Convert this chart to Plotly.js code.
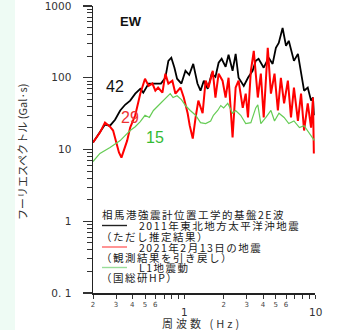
<!DOCTYPE html>
<html>
<head>
<meta charset="utf-8">
<script src="https://cdn.plot.ly/plotly-3.0.1.min.js"></script>
<style>html,body{margin:0;padding:0;background:#fff;}#chart{width:343px;height:330px;}</style>
</head>
<body>
<div id="chart"></div>
<script>
// 2011 Tohoku (estimated) - black
const blackFreq = [0.2,0.226,0.247,0.27,0.295,0.323,0.352,0.385,0.421,0.46,0.485,0.533,0.6,0.662,0.716,0.755,0.795,0.84,0.88,0.95,1.02,1.09,1.17,1.26,1.33,1.41,1.51,1.62,1.73,1.83,1.93,2.07,2.18,2.34,2.47,2.6,2.85,3.07,3.33,3.52,3.7,4.05,4.42,4.74,5.02,5.28,5.65,6.0,6.3,6.9,7.4,7.82,8.25,8.8,9.33,9.65,9.8];
const blackVal = [12.5,17.2,22.3,21.5,26,35,42,48,60,70,62,83,83,83,100,172,190,138,97,83,125,110,156,83,66,91,70,114,103,162,184,142,209,125,215,100,77,100,125,172,184,138,190,156,261,306,494,278,327,172,215,114,66,73,48,53,30];
// 2021-02-13 event - red
const redFreq = [0.2,0.226,0.247,0.27,0.285,0.3,0.316,0.33,0.345,0.365,0.385,0.421,0.46,0.485,0.5,0.533,0.57,0.6,0.63,0.68,0.716,0.755,0.81,0.855,0.934,0.99,1.06,1.1,1.16,1.22,1.28,1.38,1.455,1.53,1.65,1.73,1.83,1.96,2.07,2.18,2.34,2.47,2.6,2.8,2.95,3.07,3.23,3.4,3.65,3.85,4.05,4.35,4.6,4.9,5.2,5.48,5.8,6.2,6.55,6.9,7.4,7.82,8.25,8.8,9.33,9.65,9.8];
const redVal = [12.5,17.2,23.7,20.8,18.4,12.9,9.1,7.7,9.7,13.3,20.2,30,60,85,97,77,83,66,73,62,114,83,91,60,73,53,32,21.5,14.2,28,48,32,91,73,125,53,114,91,53,100,14.7,73,91,38,60,28,125,237,53,114,28,261,60,114,35,100,44,91,28,73,25,60,18.4,44,20.2,53,8.8];
// L1 ground motion - green
const greenFreq = [0.2,0.226,0.27,0.323,0.352,0.385,0.421,0.46,0.5,0.54,0.58,0.62,0.655,0.69,0.74,0.78,0.82,0.88,0.95,1.02,1.11,1.22,1.33,1.455,1.59,1.67,1.8,1.9,2.0,2.15,2.34,2.47,2.7,2.95,3.23,3.52,3.65,3.85,4.21,4.6,4.9,5.3,5.8,6.3,6.9,7.6,8.25,9.0,9.65,9.9];
const greenVal = [6.8,8.8,10.7,13.3,15.6,18.4,20.8,24.5,30,28,35,39.5,44,49.5,55,60,53,56,49.5,41,35,30,23.7,23,25,30,35,41,38,44,32,35,30,23,23.7,38,42,23,28,35,25,32,28,23,25,20.2,21.5,17.2,14.7,13.3];

const yTickVals = [0.1,1,10,100,1000];
const yTickText = ["0. 1","1","10","100","1000"];
const xTickVals = [0.2,0.3,0.4,0.5,0.6,0.7,0.8,0.9,1,2,3,4,5,6,7,8,9,10];
const xTickText = ["2","3","4","5","6","","","","","2","3","4","5","6","","","",""];
const xDecadeLabels = ["1","10"];
const xDecadeVals = [1,10];

const legendTitle = "相馬港強震計位置工学的基盤2E波";
const legendNames = ["2011年東北地方太平洋沖地震","2021年2月13日の地震","L1地震動"];
const legendNotes = ["（ただし推定結果）","（観測結果を引き戻し）","（国総研HP）"];
const legendColors = ["#222222","#ff6666","#99dd99"];
const seriesLabels = ["42","29","15"];
const seriesLabelColors = ["#111111","#ee3333","#33bb33"];

const yMinor = [];
[0.1,1,10,100].forEach(d => { for (let k = 2; k <= 9; k++) yMinor.push(+(d*k).toPrecision(3)); });

const cjk = "'Noto Sans CJK JP', 'Noto Sans', sans-serif";
const num = "'DejaVu Sans', sans-serif";
const sans = "'Liberation Sans', Arial, sans-serif";

const traces = [
  {x: blackFreq, y: blackVal, mode: 'lines', line: {color: '#000000', width: 1.8}, hoverinfo: 'skip'},
  {x: redFreq, y: redVal, mode: 'lines', line: {color: '#ff0000', width: 2}, hoverinfo: 'skip'},
  {x: greenFreq, y: greenVal, mode: 'lines', line: {color: '#66cc55', width: 1.2}, hoverinfo: 'skip'}
];

const W = 222, H = 287, L = 93, T = 6;
const px = v => (v - L) / W;
const py = v => (T + H - v) / H;
const A = (o) => Object.assign({xref: 'paper', yref: 'paper', showarrow: false, xanchor: 'center', yanchor: 'middle', borderpad: 0}, o);
const AL = (o) => A(Object.assign({xanchor: 'left', align: 'left'}, o));

const ann = [];
ann.push(A({text: '<b>EW</b>', x: px(131), y: py(21), font: {family: sans, size: 13, color: '#111'}}));
const labelPos = [[115, 86], [130, 117], [155, 137]];
for (let i = 0; i < 3; i++) {
  ann.push(A({text: seriesLabels[i], x: px(labelPos[i][0]), y: py(labelPos[i][1]), font: {family: sans, size: 16, color: seriesLabelColors[i]}}));
}

ann.push(AL({text: legendTitle, x: px(101), y: py(214), font: {family: cjk, size: 10.5, color: '#1a1a1a'}}));
const itemY = [225.5, 247, 267.5];
const noteY = [236.5, 257.5, 277.5];
const shapes = [];
for (let i = 0; i < 3; i++) {
  ann.push(AL({text: legendNames[i], x: px(138), y: py(itemY[i]), font: {family: cjk, size: 10.5, color: '#1a1a1a'}}));
  ann.push(AL({text: legendNotes[i], x: px(100), y: py(noteY[i]), font: {family: cjk, size: 10.5, color: '#1a1a1a'}}));
  shapes.push({type: 'line', xref: 'paper', yref: 'paper', x0: px(102), x1: px(127), y0: py(itemY[i]), y1: py(itemY[i]), line: {color: legendColors[i], width: 1.4}});
}
for (let i = 0; i < 2; i++) {
  ann.push(A({text: xDecadeLabels[i], x: Math.log10(xDecadeVals[i]), xref: 'x', y: py(312), font: {family: num, size: 10.5, color: '#333'}}));
}
ann.push(A({text: 'フーリエスペクトル (Gal·s)', x: px(22), y: py(152), textangle: -90, font: {family: cjk, size: 11, color: '#333'}}));
ann.push(AL({text: '周波数 (Hz)', x: px(161), y: py(323), font: {family: cjk, size: 11, color: '#333'}}));

shapes.push({type: 'rect', xref: 'paper', yref: 'paper', x0: px(0), x1: px(15), y0: py(335), y1: py(-5), fillcolor: '#eefbf4', line: {width: 0}, layer: 'below'});

const layout = {
  width: 343, height: 330,
  margin: {l: L, r: 343 - L - W, t: T, b: 330 - T - H},
  paper_bgcolor: '#ffffff', plot_bgcolor: '#ffffff',
  showlegend: false,
  xaxis: {
    type: 'log', range: [Math.log10(0.2), 1],
    showgrid: false, zeroline: false,
    showline: true, linecolor: '#222', linewidth: 1.5,
    ticks: 'outside', ticklen: 4, tickwidth: 1, tickcolor: '#333',
    tickmode: 'array', tickvals: xTickVals, ticktext: xTickText,
    tickfont: {family: num, size: 7, color: '#444'}
  },
  yaxis: {
    type: 'log', range: [-1, 3],
    showgrid: false, zeroline: false,
    showline: true, linecolor: '#222', linewidth: 1.5,
    ticks: 'outside', ticklen: 9, tickwidth: 1.2, tickcolor: '#333',
    tickmode: 'array', tickvals: yTickVals, ticktext: yTickText,
    tickfont: {family: num, size: 10.5, color: '#333'},
    ticklabelstandoff: 9, ticklabeloverflow: 'allow',
    minor: {tickvals: yMinor, ticks: 'outside', ticklen: 5, tickwidth: 1, tickcolor: '#333', showgrid: false}
  },
  annotations: ann,
  shapes: shapes
};

Plotly.newPlot('chart', traces, layout, {staticPlot: true, displayModeBar: false}).then(() => {
  // the reference glyphs are horizontally wide: widen the left-aligned Japanese labels
  document.querySelectorAll('.annotation-text').forEach(el => {
    const t = el.textContent;
    if (/[\u3040-\u30ff\u4e00-\u9fff\uff00-\uffef]/.test(t) && t.indexOf('フーリエ') !== 0) {
      el.style.letterSpacing = t.indexOf('周波数') === 0 ? '3px' : '1.5px';
    }
  });
});
</script>
</body>
</html>
